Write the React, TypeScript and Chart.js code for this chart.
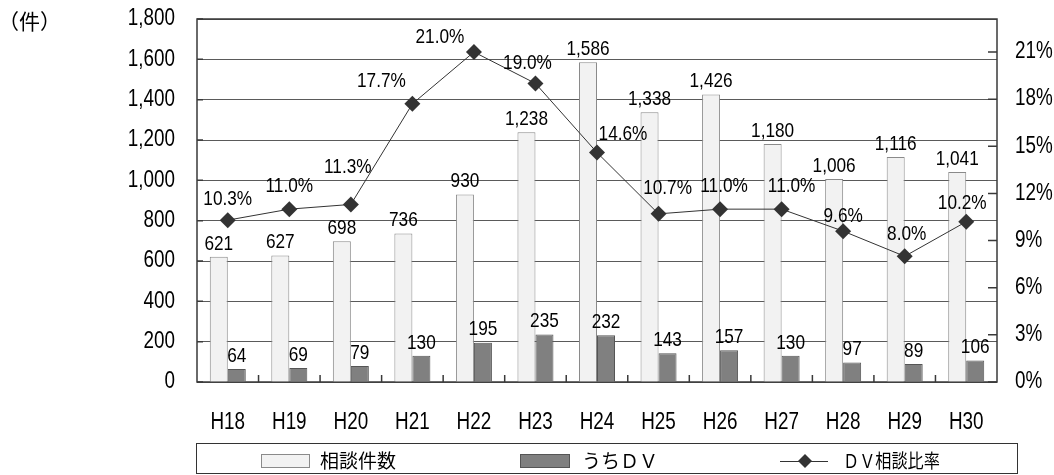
import React, { useEffect, useRef } from 'react';
import { Chart, registerables } from 'chart.js';

Chart.register(...registerables);

const categories = ['H18', 'H19', 'H20', 'H21', 'H22', 'H23', 'H24', 'H25', 'H26', 'H27', 'H28', 'H29', 'H30'];
const consultations = [621, 627, 698, 736, 930, 1238, 1586, 1338, 1426, 1180, 1006, 1116, 1041];
const dvCases = [64, 69, 79, 130, 195, 235, 232, 143, 157, 130, 97, 89, 106];
const dvRatio = [10.3, 11.0, 11.3, 17.7, 21.0, 19.0, 14.6, 10.7, 11.0, 11.0, 9.6, 8.0, 10.2];
const leftTicks = [0, 200, 400, 600, 800, 1000, 1200, 1400, 1600, 1800];
const rightTicks = [0, 3, 6, 9, 12, 15, 18, 21];
const seriesNames = ['相談件数', 'うちＤＶ', 'ＤＶ相談比率'];
const unitLabel = '（件）';
// small nudges (px) of the ratio labels, as placed in the original
const ratioLabelNudge = [
  [0, 0], [0, -2], [-3, -16], [-31, -2], [-34, 6], [-8, 1], [26, 3], [9, -5], [4, -2], [10, -2], [0, 6], [2, -1], [-4, 2],
];

const NUM_FONT = '"Liberation Sans", Arial, sans-serif';
const CJK_FONT = '"Noto Sans CJK JP", sans-serif';
const SQUEEZE = 0.82;

const LIGHT_FILL = '#f2f2f2';
const LIGHT_EDGE = '#8a8a8a';
const DARK_FILL = '#808080';
const DARK_EDGE = '#555555';
const LINE_COLOR = '#333333';

function condensedText(ctx: CanvasRenderingContext2D, text: string, x: number, y: number, align: CanvasTextAlign, size: number) {
  ctx.save();
  ctx.font = `${size}px ${NUM_FONT}`;
  ctx.textAlign = align;
  ctx.textBaseline = 'middle';
  ctx.fillStyle = '#000';
  ctx.translate(x, y);
  ctx.scale(SQUEEZE, 1);
  ctx.fillText(text, 0, 0);
  ctx.restore();
}

export default function App() {
  const ref = useRef<HTMLCanvasElement>(null);

  useEffect(() => {
    const canvas = ref.current!;

    const overlay = {
      id: 'overlay',
      beforeDatasetsDraw(chart: any) {
        const ctx = chart.ctx;
        const a = chart.chartArea;
        const x = chart.scales.x;
        const y = chart.scales.y;
        const y1 = chart.scales.y1;
        ctx.save();
        ctx.strokeStyle = '#3a3a3a';
        ctx.lineWidth = 1.5;
        ctx.strokeRect(a.left, a.top, a.right - a.left, a.bottom - a.top);
        ctx.beginPath();
        leftTicks.forEach((v) => {
          const py = y.getPixelForValue(v);
          ctx.moveTo(a.left, py);
          ctx.lineTo(a.left + 6, py);
        });
        rightTicks.forEach((v) => {
          const py = y1.getPixelForValue(v);
          ctx.moveTo(a.right, py);
          ctx.lineTo(a.right - 9, py);
        });
        const half = (x.getPixelForValue(1) - x.getPixelForValue(0)) / 2;
        for (let i = 1; i < categories.length; i++) {
          const px = x.getPixelForValue(i) - half;
          ctx.moveTo(px, a.bottom);
          ctx.lineTo(px, a.bottom - 7);
        }
        ctx.stroke();
        ctx.restore();

        // axis tick labels
        leftTicks.forEach((v) => {
          condensedText(ctx, v.toLocaleString('en-US'), a.left - 22, y.getPixelForValue(v), 'right', 23);
        });
        rightTicks.forEach((v) => {
          condensedText(ctx, v + '%', a.right + 18, y1.getPixelForValue(v), 'left', 23);
        });
        categories.forEach((c, i) => {
          condensedText(ctx, c, x.getPixelForValue(i), a.bottom + 41, 'center', 23);
        });
      },
      afterDatasetsDraw(chart: any) {
        const ctx = chart.ctx;
        [0, 1].forEach((di) => {
          const meta = chart.getDatasetMeta(di);
          const vals = chart.data.datasets[di].data as number[];
          meta.data.forEach((el: any, i: number) => {
            condensedText(ctx, vals[i].toLocaleString('en-US'), el.x, el.y - 13, 'center', 21);
          });
        });
        const lm = chart.getDatasetMeta(2);
        lm.data.forEach((el: any, i: number) => {
          const n = ratioLabelNudge[i] || [0, 0];
          condensedText(ctx, dvRatio[i].toFixed(1) + '%', el.x + n[0], el.y - 21 + n[1], 'center', 21);
        });
      },
      afterDraw(chart: any) {
        const ctx = chart.ctx;
        ctx.save();
        // unit label
        ctx.fillStyle = '#000';
        ctx.textBaseline = 'middle';
        ctx.textAlign = 'left';
        ctx.font = `21px ${CJK_FONT}`;
        ctx.fillText(unitLabel, -2, 21);
        // legend box
        const bx = 196.5, by = 443.5, bw = 821, bh = 30;
        ctx.strokeStyle = '#333';
        ctx.lineWidth = 1;
        ctx.strokeRect(bx, by, bw, bh);
        const cy = 461;
        ctx.font = `19px ${CJK_FONT}`;
        // item 1
        ctx.fillStyle = LIGHT_FILL;
        ctx.fillRect(261, 454, 48, 13);
        ctx.strokeStyle = LIGHT_EDGE;
        ctx.strokeRect(261.5, 454.5, 48, 13);
        ctx.fillStyle = '#000';
        ctx.fillText(seriesNames[0], 320, cy);
        // item 2
        ctx.fillStyle = DARK_FILL;
        ctx.fillRect(520, 454, 49, 13);
        ctx.strokeStyle = DARK_EDGE;
        ctx.strokeRect(520.5, 454.5, 49, 13);
        ctx.fillStyle = '#000';
        ctx.fillText(seriesNames[1], 582, cy);
        // item 3
        ctx.strokeStyle = LINE_COLOR;
        ctx.beginPath();
        ctx.moveTo(780, cy + 0.5);
        ctx.lineTo(828, cy + 0.5);
        ctx.stroke();
        ctx.fillStyle = LINE_COLOR;
        ctx.beginPath();
        ctx.moveTo(805, cy - 7);
        ctx.lineTo(812, cy);
        ctx.lineTo(805, cy + 7);
        ctx.lineTo(798, cy);
        ctx.closePath();
        ctx.fill();
        ctx.fillStyle = '#000';
        ctx.save();
        ctx.translate(843, cy);
        ctx.scale(0.85, 1);
        ctx.fillText(seriesNames[2], 0, 0);
        ctx.restore();
        ctx.restore();
      },
    };

    const chart = new Chart(canvas, {
      type: 'bar',
      data: {
        labels: categories,
        datasets: [
          {
            type: 'bar',
            label: seriesNames[0],
            data: consultations,
            backgroundColor: LIGHT_FILL,
            borderColor: LIGHT_EDGE,
            borderWidth: 1,
            yAxisID: 'y',
            categoryPercentage: 0.585,
            barPercentage: 1,
            order: 1,
          },
          {
            type: 'bar',
            label: seriesNames[1],
            data: dvCases,
            backgroundColor: DARK_FILL,
            borderColor: DARK_EDGE,
            borderWidth: 1,
            yAxisID: 'y',
            categoryPercentage: 0.585,
            barPercentage: 1,
            order: 2,
          },
          {
            type: 'line',
            label: seriesNames[2],
            data: dvRatio,
            yAxisID: 'y1',
            borderColor: LINE_COLOR,
            borderWidth: 1,
            pointStyle: 'rectRot',
            pointRadius: 8,
            pointBackgroundColor: LINE_COLOR,
            pointBorderColor: LINE_COLOR,
            pointBorderWidth: 0,
            tension: 0,
            order: 0,
          },
        ] as any,
      },
      options: {
        animation: false,
        responsive: true,
        maintainAspectRatio: false,
        layout: { padding: { top: 19, left: 0, right: 0, bottom: 0 } },
        plugins: {
          legend: { display: false },
          tooltip: { enabled: false },
        },
        scales: {
          x: {
            type: 'category',
            grid: { display: false, drawTicks: false },
            border: { display: false },
            ticks: { display: false, autoSkip: false },
            afterFit(s: any) {
              s.height = 93;
              s.paddingLeft = 0;
              s.paddingRight = 0;
            },
          },
          y: {
            type: 'linear',
            position: 'left',
            min: 0,
            max: 1800,
            afterBuildTicks(s: any) {
              s.ticks = leftTicks.map((v) => ({ value: v }));
            },
            grid: { color: '#5a5a5a', lineWidth: 1, drawTicks: false },
            border: { display: false },
            ticks: { display: false },
            afterFit(s: any) {
              s.width = 197;
              s.paddingTop = 0;
              s.paddingBottom = 0;
            },
          },
          y1: {
            type: 'linear',
            position: 'right',
            min: 0,
            max: 23.1,
            afterBuildTicks(s: any) {
              s.ticks = rightTicks.map((v) => ({ value: v }));
            },
            grid: { display: false, drawTicks: false },
            border: { display: false },
            ticks: { display: false },
            afterFit(s: any) {
              s.width = 57;
              s.paddingTop = 0;
              s.paddingBottom = 0;
            },
          },
        },
      } as any,
      plugins: [overlay],
    });

    return () => chart.destroy();
  }, []);

  return (
    <div style={{ position: 'fixed', left: 0, top: 0, width: 1054, height: 475, background: '#fff' }}>
      <canvas ref={ref} />
    </div>
  );
}
